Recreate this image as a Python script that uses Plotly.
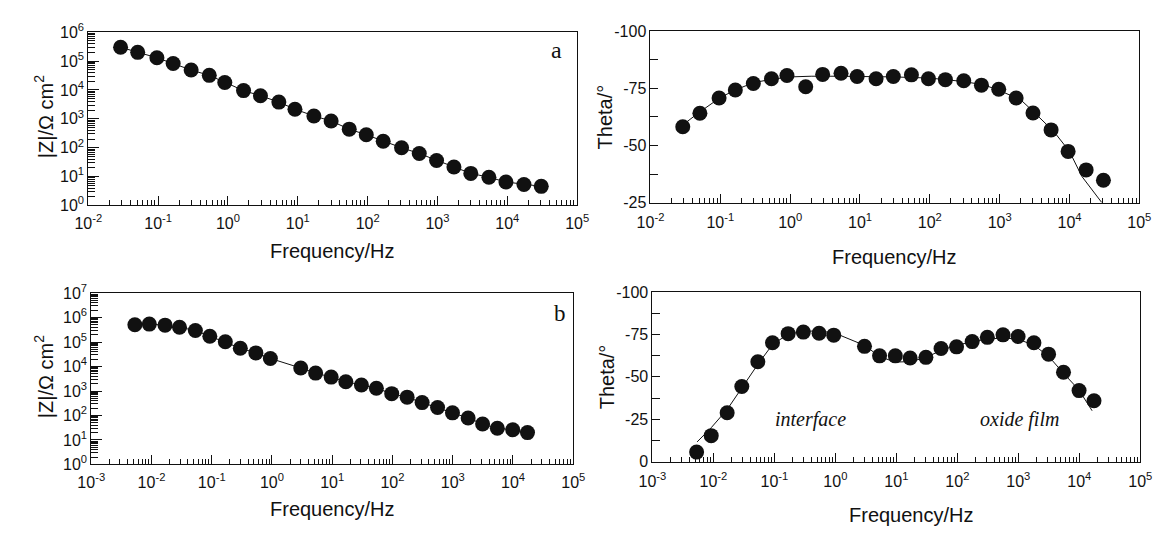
import plotly.graph_objects as go

W, H = 1166, 537

# ---------------- data ----------------
# panel a
freq_a = [0.029, 0.051, 0.096, 0.164, 0.297, 0.54, 0.9, 1.67, 2.92, 5.35, 9.1, 17, 30,
          54.5, 95.6, 167, 306, 548, 970, 1720, 3000, 5450, 9550, 17300, 30600]
z_a = [3.0e5, 2.0e5, 1.3e5, 8.2e4, 4.9e4, 3.2e4, 1.8e4, 9.5e3, 6.3e3, 3.8e3, 2.15e3, 1.26e3,
       840, 440, 280, 167, 100, 63, 36, 21.6, 12.9, 9.5, 6.5, 5.3, 4.6]
theta_a = [-58.2, -64.1, -70.8, -74.3, -77.1, -79.2, -80.6, -75.7, -81.1, -81.6, -80.2, -79.2,
           -80.2, -80.9, -79.2, -78.8, -78.3, -76.4, -74.6, -70.8, -64.2, -56.8, -47.4, -39.3, -34.8]
fit_freq_a = [0.029, 0.05, 0.1, 0.17, 0.3, 0.55, 1, 2, 5, 10, 30, 100, 300, 600, 1000, 2000,
              3000, 6000, 10000, 15000, 29000]
fit_theta_a = [-59, -64.5, -71, -74.5, -77.5, -79, -80, -80.3, -80.3, -80.2, -80, -79.5, -78,
               -76.5, -74, -70, -65, -56, -47.4, -36.5, -25]

# panel b
freq_b = [0.0053, 0.0092, 0.0168, 0.0292, 0.0535, 0.093, 0.168, 0.298, 0.54, 0.94, 3.0, 5.3,
          9.6, 16.8, 30.5, 54, 97, 175, 310, 560, 990, 1800, 3130, 5500, 9900, 17400]
z_b = [5.1e5, 5.4e5, 4.9e5, 4.0e5, 2.96e5, 1.73e5, 1.03e5, 5.6e4, 3.6e4, 2.14e4, 8.7e3, 5.4e3,
       3.7e3, 2.4e3, 1.77e3, 1.3e3, 780, 560, 337, 213, 128, 79, 45, 30, 26, 20]
theta_b = [-5.6, -15.3, -28.8, -44.3, -58.9, -70.1, -75.5, -76.4, -75.7, -74.6, -68.0, -62.4,
           -62.4, -61.1, -61.5, -66.7, -67.7, -70.8, -73.3, -74.8, -73.8, -70.1, -63.4, -52.7,
           -41.9, -35.9]
fit_freq_b = [0.0054, 0.0092, 0.017, 0.0295, 0.055, 0.095, 0.169, 0.30, 0.55, 0.95, 3.0, 5.3,
              9.5, 17, 31, 55, 98, 174, 310, 560, 980, 1820, 3160, 5500, 9800, 16200]
fit_theta_b = [-11.6, -20, -31, -44, -58, -69.5, -75, -77, -77, -76, -68.6, -62, -58.7, -59,
               -61.5, -65.8, -68.6, -70.8, -72.3, -72.9, -72.3, -68.6, -62, -52.1, -42.4, -30]

# tick labels
theta_ticks_a = [-100, -75, -50, -25]
theta_ticks_b = [-100, -75, -50, -25, 0]

# ---------------- helpers ----------------
FONT = "Liberation Sans, Arial, sans-serif"
SERIF = "Liberation Serif, Times New Roman, serif"
BLACK = "#111111"
TICK_FONT = dict(family=FONT, size=16, color=BLACK)


def dom_x(x0, x1):
    return [x0 / W, x1 / W]


def dom_y(top, bottom):
    return [1 - bottom / H, 1 - top / H]


def pow_text(e):
    return "10<sup>%d</sup>" % e


def log_axis(e0, e1, domain, anchor, major_len, minor_len, standoff=None):
    majors = [10.0 ** e for e in range(e0, e1 + 1)]
    minors = [m * 10.0 ** e for e in range(e0, e1) for m in range(2, 10)]
    ax = dict(type="log", range=[e0, e1], domain=domain, anchor=anchor,
              tickmode="array", tickvals=majors, ticktext=[pow_text(e) for e in range(e0, e1 + 1)],
              ticks="inside", ticklen=major_len, tickwidth=1, tickcolor=BLACK,
              minor=dict(tickmode="array", tickvals=minors, ticks="inside", ticklen=minor_len,
                         tickwidth=1, tickcolor=BLACK, showgrid=False),
              showline=True, linecolor=BLACK, linewidth=1, mirror=True,
              showgrid=False, zeroline=False, tickfont=TICK_FONT)
    if standoff is not None:
        ax["ticklabelstandoff"] = standoff
    return ax


def theta_y_axis(lo, ticks, domain, anchor):
    minors = [t + 12.5 for t in ticks[:-1]]
    return dict(range=[lo, -100], domain=domain, anchor=anchor,
                tickmode="array", tickvals=ticks, ticktext=[str(t) for t in ticks],
                ticks="inside", ticklen=8, tickwidth=1, tickcolor=BLACK,
                minor=dict(tickmode="array", tickvals=minors, ticks="inside", ticklen=8,
                           tickwidth=1, tickcolor=BLACK, showgrid=False),
                showline=True, linecolor=BLACK, linewidth=1, mirror=True,
                showgrid=False, zeroline=False, tickfont=TICK_FONT)


marker = dict(symbol="circle", size=15, color=BLACK, line=dict(width=0))
line = dict(color=BLACK, width=1)

fig = go.Figure()

# panel a |Z|
fig.add_trace(go.Scatter(x=freq_a, y=z_a, mode="lines+markers", line=line, marker=marker,
                         xaxis="x", yaxis="y", showlegend=False))
# panel a theta
fig.add_trace(go.Scatter(x=fit_freq_a, y=fit_theta_a, mode="lines", line=line,
                         xaxis="x2", yaxis="y2", showlegend=False))
fig.add_trace(go.Scatter(x=freq_a, y=theta_a, mode="markers", marker=marker,
                         xaxis="x2", yaxis="y2", showlegend=False))
# panel b |Z|
fig.add_trace(go.Scatter(x=freq_b, y=z_b, mode="lines+markers", line=line, marker=marker,
                         xaxis="x3", yaxis="y3", showlegend=False))
# panel b theta
fig.add_trace(go.Scatter(x=fit_freq_b, y=fit_theta_b, mode="lines", line=line,
                         xaxis="x4", yaxis="y4", showlegend=False))
fig.add_trace(go.Scatter(x=freq_b, y=theta_b, mode="markers", marker=marker,
                         xaxis="x4", yaxis="y4", showlegend=False))

layout = dict(
    width=W, height=H,
    margin=dict(l=0, r=0, t=0, b=0),
    paper_bgcolor="white", plot_bgcolor="white",
    font=dict(family=FONT, color=BLACK),
    hovermode=False,
    xaxis=log_axis(-2, 5, dom_x(76, 576), "y", 9, 5, standoff=3),
    yaxis=log_axis(0, 6, dom_y(22, 202), "x", 11, 7),
    xaxis2=log_axis(-2, 5, dom_x(651, 1151), "y2", 9, 5, standoff=5),
    yaxis2=theta_y_axis(-25, theta_ticks_a, dom_y(21, 199), "x2"),
    xaxis3=log_axis(-3, 5, dom_x(79, 572), "y3", 9, 5, standoff=3),
    yaxis3=log_axis(0, 7, dom_y(293, 471), "x3", 11, 7),
    xaxis4=log_axis(-3, 5, dom_x(653, 1152), "y4", 9, 5, standoff=5),
    yaxis4=theta_y_axis(0, theta_ticks_b, dom_y(292, 468), "x4"),
)
fig.update_layout(**layout)


def ann(text, x, y, size=20, angle=0, family=FONT, italic=False):
    t = "<i>%s</i>" % text if italic else text
    fig.add_annotation(text=t, x=x / W, y=1 - y / H, xref="paper", yref="paper",
                       showarrow=False, textangle=angle, xanchor="center", yanchor="middle",
                       font=dict(family=family, size=size, color=BLACK))


ann("|Z|/Ω cm<sup>2</sup>", 31, 110, angle=-90)
ann("Frequency/Hz", 326, 249)
ann("Theta/°", 604, 110, angle=-90)
ann("Frequency/Hz", 901, 256)
ann("|Z|/Ω cm<sup>2</sup>", 31, 380, angle=-90)
ann("Frequency/Hz", 326, 517)
ann("Theta/°", 606, 380, angle=-90)
ann("Frequency/Hz", 918, 523)
ann("a", 555, 40, size=24, family=SERIF)
ann("b", 558, 314, size=23, family=SERIF)
ann("interface", 815, 424, size=20, family=SERIF, italic=True)
ann("oxide film", 1028, 424, size=20, family=SERIF, italic=True)

# remove the browser's default page margin so the figure sits at the window origin
fig.write_html("out.html",
               config={"displayModeBar": False, "staticPlot": True},
               post_script="document.body.style.margin='0';document.body.style.overflow='hidden';")
